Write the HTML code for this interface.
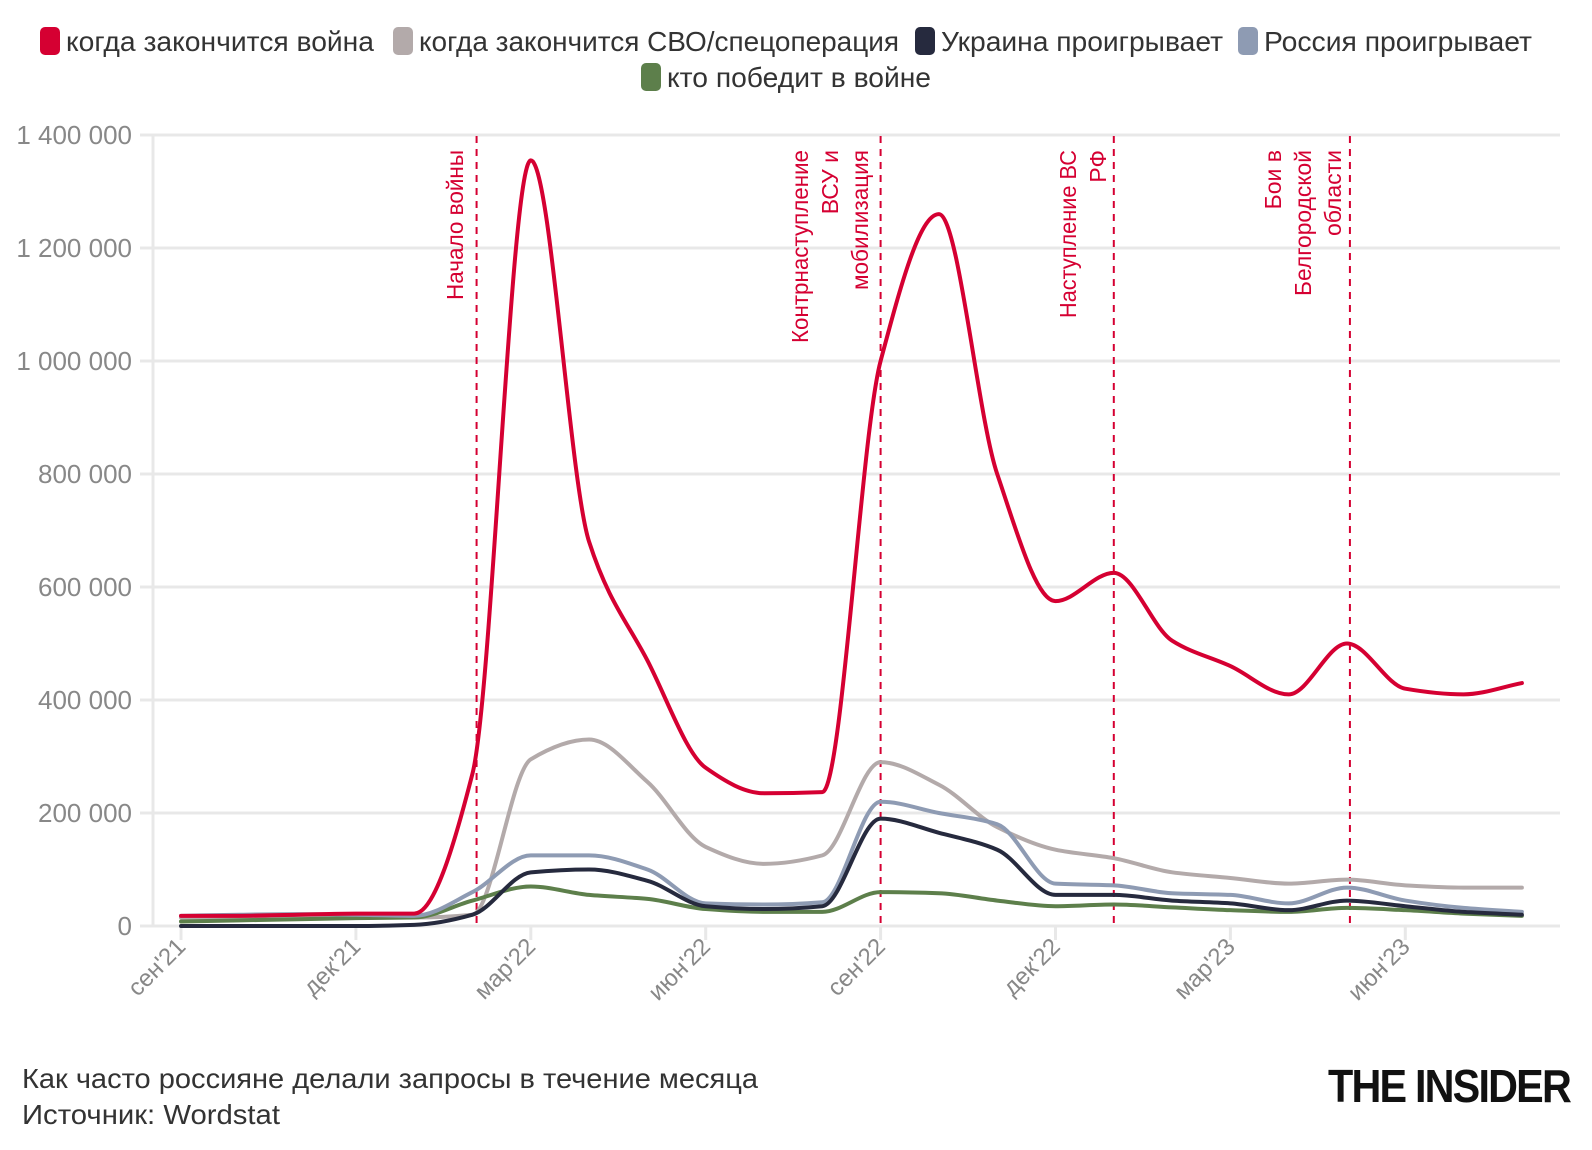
<!DOCTYPE html>
<html><head><meta charset="utf-8"><style>
html,body{margin:0;padding:0;background:#fff;width:1592px;height:1150px;overflow:hidden}
svg{display:block;font-family:"Liberation Sans",sans-serif}
</style></head><body>
<svg id="s" width="1592" height="1150" viewBox="0 0 1592 1150" xmlns="http://www.w3.org/2000/svg">
<g font-size="28" fill="#333">
<rect x="40" y="27" width="20" height="28" rx="5" fill="#d50032"/>
<text x="66" y="51" textLength="308" lengthAdjust="spacingAndGlyphs">когда закончится война</text>
<rect x="393" y="27" width="20" height="28" rx="5" fill="#b3aaaa"/>
<text x="419" y="51" textLength="480" lengthAdjust="spacingAndGlyphs">когда закончится СВО/спецоперация</text>
<rect x="915" y="27" width="20" height="28" rx="5" fill="#262a3e"/>
<text x="941" y="51" textLength="282" lengthAdjust="spacingAndGlyphs">Украина проигрывает</text>
<rect x="1238" y="27" width="20" height="28" rx="5" fill="#8e9bb3"/>
<text x="1264" y="51" textLength="268" lengthAdjust="spacingAndGlyphs">Россия проигрывает</text>
<rect x="641" y="63" width="20" height="28" rx="5" fill="#5d7f4b"/>
<text x="667" y="87" textLength="264" lengthAdjust="spacingAndGlyphs">кто победит в войне</text>
</g>
<g id="grid" stroke="#e8e8e8" stroke-width="3"></g>
<g id="ylab" font-size="26" fill="#888" text-anchor="end"></g>
<g id="xlab" font-size="24" fill="#888" text-anchor="end"></g>
<g id="vl" stroke="#d50032" stroke-width="2" stroke-dasharray="7,6"></g>
<g id="series" fill="none" stroke-width="4" stroke-linejoin="round" stroke-linecap="round"></g>
<g font-size="23" fill="#d50032" text-anchor="end" id="ann">
<text transform="translate(463,150) rotate(-90)" textLength="150" lengthAdjust="spacingAndGlyphs">Начало войны</text>
<text transform="translate(808,150) rotate(-90)" textLength="193" lengthAdjust="spacingAndGlyphs">Контрнаступление</text>
<text transform="translate(838,150) rotate(-90)">ВСУ и</text>
<text transform="translate(868,150) rotate(-90)" textLength="140" lengthAdjust="spacingAndGlyphs">мобилизация</text>
<text transform="translate(1076,150) rotate(-90)" textLength="168" lengthAdjust="spacingAndGlyphs">Наступление ВС</text>
<text transform="translate(1106,150) rotate(-90)">РФ</text>
<text transform="translate(1281,150) rotate(-90)">Бои в</text>
<text transform="translate(1311,150) rotate(-90)" textLength="146" lengthAdjust="spacingAndGlyphs">Белгородской</text>
<text transform="translate(1341,150) rotate(-90)">области</text>
</g>
<g font-size="28" fill="#333">
<text x="22" y="1088" textLength="736" lengthAdjust="spacingAndGlyphs">Как часто россияне делали запросы в течение месяца</text>
<text x="22" y="1124" textLength="258" lengthAdjust="spacingAndGlyphs">Источник: Wordstat</text>
</g>
<text x="1328" y="1102" font-size="46" font-weight="bold" fill="#111" textLength="242" lengthAdjust="spacingAndGlyphs" style="letter-spacing:-2px">THE INSIDER</text>
</svg>
<script>
var NS="http://www.w3.org/2000/svg";
function el(p,t,a,txt){var e=document.createElementNS(NS,t);for(var k in a)e.setAttribute(k,a[k]);if(txt)e.textContent=txt;document.getElementById(p).appendChild(e);return e;}
var y0=926,pp=113/200;
function Y(v){return y0-v*pp;}
function X(m){return 181+58.3*m;}
var ylabs=["0","200 000","400 000","600 000","800 000","1 000 000","1 200 000","1 400 000"];
for(var i=0;i<8;i++){var y=Y(i*200);el("grid","line",{x1:140,x2:1560,y1:y,y2:y});el("ylab","text",{x:132,y:y+9},ylabs[i]);}
el("grid","line",{x1:153,x2:153,y1:136,y2:926});
var xl=["сен'21","дек'21","мар'22","июн'22","сен'22","дек'22","мар'23","июн'23"];
for(var i=0;i<8;i++){var x=X(i*3);el("grid","line",{x1:x,x2:x,y1:926,y2:940});el("xlab","text",{transform:"translate("+(x+6)+",948) rotate(-45)"},xl[i]);}
[5.07,12,16,20.05].forEach(function(m){var x=X(m);el("vl","line",{x1:x,x2:x,y1:136,y2:926});});
var D={
"#b3aaaa":[15,15,15,15,15,20,295,330,255,140,110,125,290,250,175,135,120,95,85,75,82,72,68,68],
"#5d7f4b":[8,10,12,14,15,45,70,55,48,30,25,25,60,58,45,35,38,33,28,25,32,28,22,18],
"#8e9bb3":[18,20,21,20,18,60,125,125,100,40,38,42,220,200,180,75,72,58,55,40,68,45,32,25],
"#262a3e":[0,0,0,0,2,20,95,100,80,35,30,35,190,165,135,55,55,45,40,28,45,35,25,20],
"#d50032":[18,18,20,22,22,270,1355,680,470,280,235,237,1000,1260,800,575,625,505,460,410,500,420,410,430]};
for(var c in D){var v=D[c],n=v.length,h=58.3;
var px=v.map(function(d,i){return X(i);}),py=v.map(Y);
var dk=[],m=[];for(var i=0;i<n-1;i++)dk.push((py[i+1]-py[i])/h);
m[0]=dk[0];m[n-1]=dk[n-2];
for(var i=1;i<n-1;i++){if(dk[i-1]*dk[i]<=0)m[i]=0;else m[i]=2/(1/dk[i-1]+1/dk[i]);}
var s="M"+px[0]+","+py[0];
for(var i=0;i<n-1;i++){s+=" C"+(px[i]+h/3)+","+(py[i]+m[i]*h/3)+" "+(px[i+1]-h/3)+","+(py[i+1]-m[i+1]*h/3)+" "+px[i+1]+","+py[i+1];}
el("series","path",{d:s,stroke:c});}
</script>
</body></html>
